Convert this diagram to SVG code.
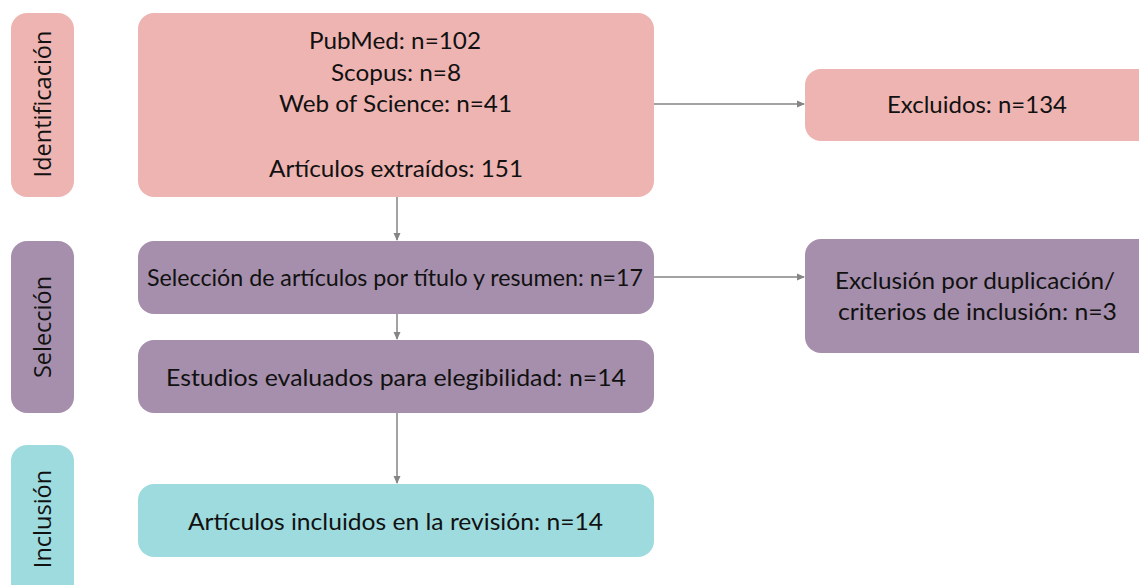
<svg xmlns="http://www.w3.org/2000/svg" width="1139" height="585" viewBox="0 0 1139 585">
<defs>
<style>
.pink{fill:#EEB4B2}
.purple{fill:#A68FAC}
.cyan{fill:#9EDBDE}
.t{font-family:Lato,"Liberation Sans",sans-serif;font-size:23.3px;fill:#111;text-anchor:middle}
.side{font-family:"Open Sans","Noto Sans",sans-serif;font-size:23.5px;fill:#111;text-anchor:middle}
.c{stroke:#858585;stroke-width:1.5;fill:none}
</style>
<marker id="ah" markerWidth="8" markerHeight="8" refX="7" refY="4" orient="auto" markerUnits="userSpaceOnUse">
<path d="M0,0.5 L8,4 L0,7.5 Z" fill="#858585"/>
</marker>
</defs>
<rect width="1139" height="585" fill="#fff"/>
<g id="side-identificacion">
<rect class="pink" x="11" y="13" width="63" height="184" rx="16"/>
<text class="side" transform="translate(51,104) rotate(-90)">Identificación</text>
</g>
<g id="side-seleccion">
<rect class="purple" x="11" y="241" width="63" height="172" rx="16"/>
<text class="side" transform="translate(51,327) rotate(-90)">Selección</text>
</g>
<g id="side-inclusion">
<rect class="cyan" x="11" y="445" width="63" height="160" rx="16"/>
<text class="side" transform="translate(51,519) rotate(-90)">Inclusión</text>
</g>
<g id="identificacion">
<rect class="pink" x="138" y="13" width="516" height="184" rx="16"/>
<text class="t" x="395" y="49" textLength="172" lengthAdjust="spacingAndGlyphs">PubMed: n=102</text>
<text class="t" x="396" y="81" textLength="130" lengthAdjust="spacingAndGlyphs">Scopus: n=8</text>
<text class="t" x="395.5" y="112" textLength="233" lengthAdjust="spacingAndGlyphs">Web of Science: n=41</text>
<text class="t" x="396" y="177" textLength="254" lengthAdjust="spacingAndGlyphs">Artículos extraídos: 151</text>
</g>
<g id="excluidos">
<rect class="pink" x="805" y="69" width="350" height="72" rx="16"/>
<text class="t" x="977" y="113" textLength="180" lengthAdjust="spacingAndGlyphs">Excluidos: n=134</text>
</g>
<g id="seleccion">
<rect class="purple" x="138" y="241" width="516" height="73" rx="16"/>
<text class="t" x="395" y="286" textLength="496" lengthAdjust="spacingAndGlyphs">Selección de artículos por título y resumen: n=17</text>
</g>
<g id="exclusion">
<rect class="purple" x="805" y="239" width="350" height="114" rx="16"/>
<text class="t" x="975" y="289" textLength="280" lengthAdjust="spacingAndGlyphs">Exclusión por duplicación/</text>
<text class="t" x="977.5" y="320" textLength="279" lengthAdjust="spacingAndGlyphs">criterios de inclusión: n=3</text>
</g>
<g id="estudios">
<rect class="purple" x="138" y="340" width="516" height="73" rx="16"/>
<text class="t" x="396" y="386" textLength="460" lengthAdjust="spacingAndGlyphs">Estudios evaluados para elegibilidad: n=14</text>
</g>
<g id="incluidos">
<rect class="cyan" x="138" y="484" width="516" height="73" rx="16"/>
<text class="t" x="395.5" y="530" textLength="415" lengthAdjust="spacingAndGlyphs">Artículos incluidos en la revisión: n=14</text>
</g>
<g id="connectors">
<line class="c" x1="654" y1="104" x2="804" y2="104" marker-end="url(#ah)"/>
<line class="c" x1="654" y1="277" x2="804" y2="277" marker-end="url(#ah)"/>
<line class="c" x1="397" y1="197" x2="397" y2="240" marker-end="url(#ah)"/>
<line class="c" x1="397" y1="314" x2="397" y2="339" marker-end="url(#ah)"/>
<line class="c" x1="397" y1="413" x2="397" y2="483" marker-end="url(#ah)"/>
</g>
</svg>
